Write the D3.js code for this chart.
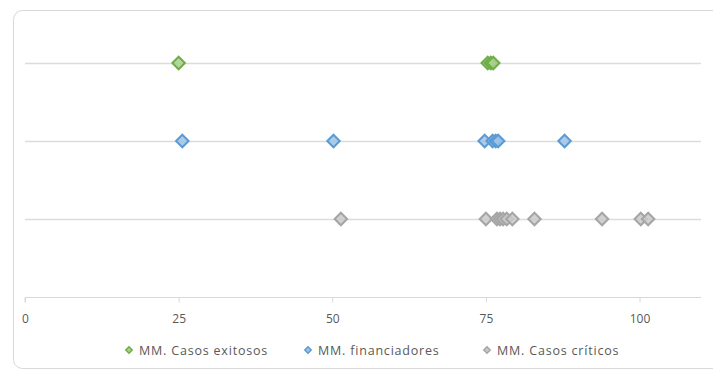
<!DOCTYPE html>
<html>
<head>
<meta charset="utf-8">
<script src="https://cdn.jsdelivr.net/npm/d3@7"></script>
<style>
  html, body { margin: 0; padding: 0; background: #fff; }
  svg { display: block; }
  text { font-family: "Open Sans", "Liberation Sans", sans-serif; fill: #595959; }
</style>
</head>
<body>
<svg id="chart" width="713" height="372"></svg>
<script>
// Series values (x position on the 0–110 scale); each series sits on its own row
const exitososValues = [25, 75.3, 75.8, 76.2];
const financiadoresValues = [25.6, 50.2, 74.8, 76.1, 76.6, 77, 87.8];
const criticosValues = [51.4, 75, 76.8, 77.3, 77.8, 78.4, 79.3, 82.9, 93.9, 100.2, 101.4];

const seriesNames = ["MM. Casos exitosos", "MM. financiadores", "MM. Casos críticos"];
const seriesRows = [3, 2, 1];
const xTicks = [0, 25, 50, 75, 100];
const rowLines = [1, 2, 3];

const series = [
  { name: seriesNames[0], row: seriesRows[0], values: exitososValues, stroke: "#70ad47", fill: "#a9d18e" },
  { name: seriesNames[1], row: seriesRows[1], values: financiadoresValues, stroke: "#5b9bd5", fill: "#9dc3e6" },
  { name: seriesNames[2], row: seriesRows[2], values: criticosValues, stroke: "#a5a5a5", fill: "#c9c9c9" }
];

const svg = d3.select("#chart");

// Chart frame
svg.append("rect")
  .attr("x", 13.5).attr("y", 10.5)
  .attr("width", 720).attr("height", 358)
  .attr("rx", 9).attr("ry", 9)
  .attr("fill", "#fff")
  .attr("stroke", "#d9d9d9");

const x = d3.scaleLinear().domain([0, 110]).range([25, 701]);
const y = d3.scaleLinear().domain([0, 3.5]).range([297, 24]);

// Horizontal gridlines per row
svg.append("g")
  .selectAll("line")
  .data(rowLines)
  .join("line")
  .attr("x1", x(0)).attr("x2", x(110))
  .attr("y1", d => Math.round(y(d)) + 0.5)
  .attr("y2", d => Math.round(y(d)) + 0.5)
  .attr("stroke", "#dcdcdc")
  .attr("stroke-width", 1.3);

// Bottom axis
const xAxis = d3.axisBottom(x)
  .tickValues(xTicks)
  .tickSize(5)
  .tickPadding(12)
  .tickFormat(d3.format("d"));

const axisG = svg.append("g")
  .attr("transform", `translate(0,${Math.round(y(0)) + 0.5})`)
  .call(xAxis);
axisG.select(".domain").attr("stroke", "#d9d9d9").attr("d", `M${x(0)},5V0H${x(110)}`);
axisG.selectAll(".tick line").attr("stroke", "#d9d9d9");
axisG.selectAll(".tick text")
  .style("font-family", "'Open Sans', 'Liberation Sans', sans-serif")
  .style("font-size", "12px")
  .attr("fill", "#595959");

// Diamond markers
const diamond = d3.symbol().type(d3.symbolDiamond2).size(100);

series.forEach(s => {
  svg.append("g")
    .selectAll("path")
    .data(s.values)
    .join("path")
    .attr("d", diamond)
    .attr("transform", d => `translate(${x(d)},${y(s.row)})`)
    .attr("fill", s.fill)
    .attr("fill-opacity", 0.85)
    .attr("stroke", s.stroke)
    .attr("stroke-width", 2);
});

// Legend
const legendX = [129, 308, 487];
const legendSym = d3.symbol().type(d3.symbolDiamond2).size(26);
const legend = svg.append("g").attr("transform", "translate(0,350)");
series.forEach((s, i) => {
  const g = legend.append("g").attr("transform", `translate(${legendX[i]},0)`);
  g.append("path").attr("d", legendSym).attr("fill", s.fill).attr("stroke", s.stroke).attr("stroke-width", 1.5);
  g.append("text")
    .attr("x", 10).attr("y", 4.5)
    .style("font-size", "12.5px")
    .style("letter-spacing", "0.8px")
    .text(s.name);
});
</script>
</body>
</html>
